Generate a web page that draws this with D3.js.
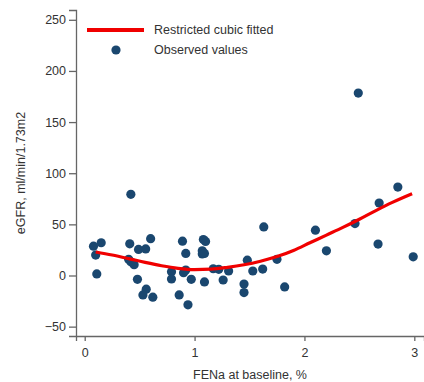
<!DOCTYPE html>
<html>
<head>
<meta charset="utf-8">
<script src="https://cdn.jsdelivr.net/npm/d3@7"></script>
<style>
  body { margin: 0; background: #fff; }
  svg { display: block; font-family: Arial, "Liberation Sans", sans-serif; }
  .axis path, .axis line { stroke: #666; stroke-width: 1.3; }
  .axis text { fill: #333; font-size: 12.5px; }
  .title { fill: #333; font-size: 12.5px; }
</style>
</head>
<body>
<div id="chart"></div>
<script>
// observed values: FENa at baseline (%), change in eGFR
const obsFena = [
  0.42, 0.08, 0.15, 0.10, 0.11, 0.41, 0.49, 0.555, 0.60, 0.40, 0.42, 0.45, 0.48, 0.56, 0.53, 0.62,
  0.89, 1.08, 1.10, 0.92, 1.07, 1.07, 1.09, 0.79, 0.79, 0.90, 0.92, 0.97, 0.86, 0.94, 1.09,
  1.17, 1.22, 1.31, 1.26, 1.48, 1.45, 1.45, 1.63, 1.53, 1.62, 1.75, 1.82,
  2.10, 2.20, 2.49, 2.85, 2.68, 2.46, 2.67, 2.99
];
const obsEgfr = [
  79.4, 28.7, 32, 20, 1.5, 31, 25.5, 26, 36, 15.8, 13.4, 10.5, -3.7, -13.4, -19, -21.2,
  33.6, 35.2, 33.3, 21.6, 24.1, 21, 21.6, 3.7, -3.4, 2.7, 5.4, -3.7, -19, -28.7, -6.3,
  6.6, 6, 4.4, -4.4, 15, -8.3, -16.7, 47.5, 4.4, 6.3, 15.8, -11.2,
  44.3, 24.1, 178.4, 86.5, 70.9, 50.8, 30.7, 18.3
];

// restricted cubic fit
const fitFena = [0.1, 0.25, 0.4, 0.55, 0.7, 0.85, 1.0, 1.15, 1.3, 1.45, 1.6, 1.75, 1.9, 2.05, 2.2, 2.35, 2.5, 2.65, 2.8, 2.98];
const fitEgfr = [23, 20, 16.5, 12.8, 9.5, 7, 5.8, 6.2, 8, 10.5, 14, 18.5, 24.5, 32, 39.5, 47, 55, 63.5, 71.5, 80];

const xTicks = [0, 1, 2, 3];
const yTicks = [-50, 0, 50, 100, 150, 200, 250];
const legendLabels = ["Restricted cubic fitted", "Observed values"];

const width = 424, height = 382;
const dotColor = "#1a476f", lineColor = "#f00000";

const svg = d3.select("#chart").append("svg")
  .attr("width", width)
  .attr("height", height);

// axis extents chosen so tick 0 lands where the reference has it
const x = d3.scaleLinear().domain([-0.0792, 3.0882]).range([76, 424]);
const y = d3.scaleLinear().domain([-59.15, 259.58]).range([336, 10]);

svg.append("g")
  .attr("class", "axis")
  .attr("transform", "translate(0,336)")
  .call(d3.axisBottom(x).tickValues(xTicks).tickFormat(d3.format("d")).tickSizeOuter(0).tickSize(5).tickPadding(7));

svg.append("g")
  .attr("class", "axis")
  .attr("transform", "translate(76,0)")
  .call(d3.axisLeft(y).tickValues(yTicks).tickFormat(d3.format("d")).tickSizeOuter(0).tickSize(7).tickPadding(3));

svg.selectAll(".axis .domain").attr("stroke", "#666");

// axis titles
svg.append("text")
  .attr("class", "title")
  .attr("x", 250)
  .attr("y", 379)
  .attr("text-anchor", "middle")
  .text("FENa at baseline, %");

svg.append("text")
  .attr("class", "title")
  .attr("transform", "translate(25,173) rotate(-90)")
  .attr("text-anchor", "middle")
  .text("eGFR, ml/min/1.73m2");

// scatter
const pts = obsFena.map((v, i) => ({ fena: v, egfr: obsEgfr[i] }));
svg.append("g").selectAll("circle")
  .data(pts)
  .enter().append("circle")
  .attr("cx", d => x(d.fena))
  .attr("cy", d => y(d.egfr))
  .attr("r", 4.6)
  .attr("fill", dotColor);

// fitted curve
const fit = fitFena.map((v, i) => [v, fitEgfr[i]]);
svg.append("path")
  .datum(fit)
  .attr("fill", "none")
  .attr("stroke", lineColor)
  .attr("stroke-width", 3.2)
  .attr("d", d3.line().x(d => x(d[0])).y(d => y(d[1])).curve(d3.curveMonotoneX));

// legend
const legend = svg.append("g");
legend.append("line")
  .attr("x1", 87).attr("x2", 144)
  .attr("y1", 30).attr("y2", 30)
  .attr("stroke", lineColor)
  .attr("stroke-width", 4);
legend.append("circle")
  .attr("cx", 116).attr("cy", 50)
  .attr("r", 4.6)
  .attr("fill", dotColor);
legend.selectAll("text")
  .data(legendLabels)
  .enter().append("text")
  .attr("class", "title")
  .attr("x", 154)
  .attr("y", (d, i) => 30 + i * 20)
  .attr("dy", "0.35em")
  .text(d => d);
</script>
</body>
</html>
